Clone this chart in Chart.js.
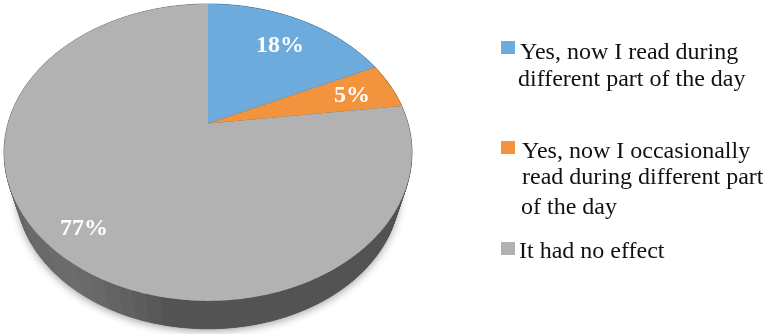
<!DOCTYPE html>
<html>
<head>
<meta charset="utf-8">
<style>
  html, body { margin: 0; padding: 0; background: #fff; }
  #wrap { width: 763px; height: 334px; }
</style>
<script src="https://cdn.jsdelivr.net/npm/chart.js@4/dist/chart.umd.min.js"></script>
</head>
<body>
<div id="wrap"><canvas id="chart" width="763" height="334"></canvas></div>
<script>
const categories = [
  "Yes, now I read during different part of the day",
  "Yes, now I occasionally read during different part of the day",
  "It had no effect"
];
const shares = [18, 5, 77];
const sliceColors = ["#6cabdc", "#f2933e", "#b2b2b2"];
const shareLabels = ["18%", "5%", "77%"];
const legendLines = [
  ["Yes, now I read during", "different part of the day"],
  ["Yes, now I occasionally", "read during different part", "of the day"],
  ["It had no effect"]
];

// Layout of the tilted disc and the legend block, in canvas pixels.
const tilt = { k: 0.195, xScale: 200 / 123.5, yScale: 142.8 / 123.5, wallScale: 0.94, wallDrop: 38.6 };
const labelSpots = [[280, 46], [352, 96], [84, 229]];
const swatchSpots = [[501, 41], [501, 141], [501, 242]];
const lineSpots = [
  [[520, 59], [518, 86]],
  [[522, 158], [522, 184], [521, 214]],
  [[519, 258]]
];

// Shade of the outer wall, lighter toward the left where the light catches it.
function wallFactor(x, cx) {
  const d = cx - x;
  if (d < 48) return 0.47;
  const band = Math.floor((d - 48) / 14);
  const wave = [0.50, 0.53, 0.55, 0.57, 0.59, 0.60, 0.62, 0.61, 0.60, 0.60, 0.58, 0.56, 0.54, 0.53];
  return wave[Math.min(band, wave.length - 1)];
}

function shade(hex, f) {
  const n = parseInt(hex.slice(1), 16);
  const c = s => Math.round(((n >> s) & 255) * f);
  return `rgb(${c(16)},${c(8)},${c(0)})`;
}

const tiltedPie = {
  id: "tiltedPie",
  beforeDatasetDraw(chart) {
    const ctx = chart.ctx;
    const arcs = chart.getDatasetMeta(0).data;
    const first = arcs[0];
    const cx = first.x, cy = first.y, r = first.outerRadius;

    // Projects an angle on the disc to the canvas, nearer edge drawn larger.
    const project = (angle, scale, drop) => {
      const ux = Math.cos(angle), uy = Math.sin(angle);
      const w = 1 - tilt.k * uy;
      return [
        cx + scale * r * tilt.xScale * ux / w,
        cy + drop + scale * r * tilt.yScale * uy / w
      ];
    };
    const step = Math.PI / 360;
    const rim = (a, b, scale, drop) => {
      const pts = [];
      for (let t = a; t < b; t += step) pts.push(project(t, scale, drop));
      pts.push(project(b, scale, drop));
      return pts;
    };
    const trace = pts => pts.forEach((p, i) => i ? ctx.lineTo(p[0], p[1]) : ctx.moveTo(p[0], p[1]));

    ctx.save();

    // Soft shadow under the disc.
    ctx.save();
    ctx.shadowColor = "rgba(0,0,0,0.38)";
    ctx.shadowBlur = 9;
    ctx.shadowOffsetY = 2;
    ctx.fillStyle = "#535353";
    ctx.beginPath();
    trace(rim(0, Math.PI * 2, tilt.wallScale, tilt.wallDrop));
    ctx.closePath();
    ctx.fill();
    ctx.restore();

    // Outer wall, built from narrow quads along each slice's rim.
    arcs.forEach(arc => {
      const color = arc.options.backgroundColor;
      const top = rim(arc.startAngle, arc.endAngle, 1, 0);
      const low = rim(arc.startAngle, arc.endAngle, tilt.wallScale, tilt.wallDrop);
      for (let i = 0; i + 1 < top.length; i++) {
        const fill = shade(color, wallFactor(top[i][0], cx));
        ctx.fillStyle = fill;
        ctx.strokeStyle = fill;
        ctx.lineWidth = 0.6;
        ctx.beginPath();
        ctx.moveTo(top[i][0], top[i][1]);
        ctx.lineTo(top[i + 1][0], top[i + 1][1]);
        ctx.lineTo(low[i + 1][0], low[i + 1][1]);
        ctx.lineTo(low[i][0], low[i][1]);
        ctx.closePath();
        ctx.fill();
        ctx.stroke();
      }
    });

    // Top face of every slice, a wedge from the hub out to the rim.
    arcs.forEach(arc => {
      ctx.fillStyle = arc.options.backgroundColor;
      ctx.beginPath();
      ctx.moveTo(cx, cy);
      rim(arc.startAngle, arc.endAngle, 1, 0).forEach(p => ctx.lineTo(p[0], p[1]));
      ctx.closePath();
      ctx.fill();
    });

    ctx.restore();
    return false;
  },
  afterDatasetsDraw(chart) {
    const ctx = chart.ctx;
    ctx.save();

    // Share labels on the slices.
    ctx.fillStyle = "#ffffff";
    ctx.font = 'bold 24px "Liberation Serif"';
    ctx.textAlign = "center";
    ctx.textBaseline = "middle";
    shareLabels.forEach((text, i) => ctx.fillText(text, labelSpots[i][0], labelSpots[i][1]));

    // Legend swatches and wrapped entries.
    ctx.textAlign = "left";
    ctx.textBaseline = "alphabetic";
    ctx.font = '24px "Liberation Serif"';
    legendLines.forEach((lines, i) => {
      ctx.fillStyle = sliceColors[i];
      ctx.fillRect(swatchSpots[i][0], swatchSpots[i][1], 14, 13);
      ctx.fillStyle = "#111111";
      lines.forEach((line, j) => ctx.fillText(line, lineSpots[i][j][0], lineSpots[i][j][1]));
    });
    ctx.restore();
  }
};

new Chart(document.getElementById("chart"), {
  type: "pie",
  data: {
    labels: categories,
    datasets: [{ data: shares, backgroundColor: sliceColors, borderWidth: 0 }]
  },
  options: {
    responsive: false,
    animation: false,
    layout: { padding: { left: 0, top: 0, right: 347, bottom: 87 } },
    plugins: { legend: { display: false }, tooltip: { enabled: false } }
  },
  plugins: [tiltedPie]
});
</script>
</body>
</html>
